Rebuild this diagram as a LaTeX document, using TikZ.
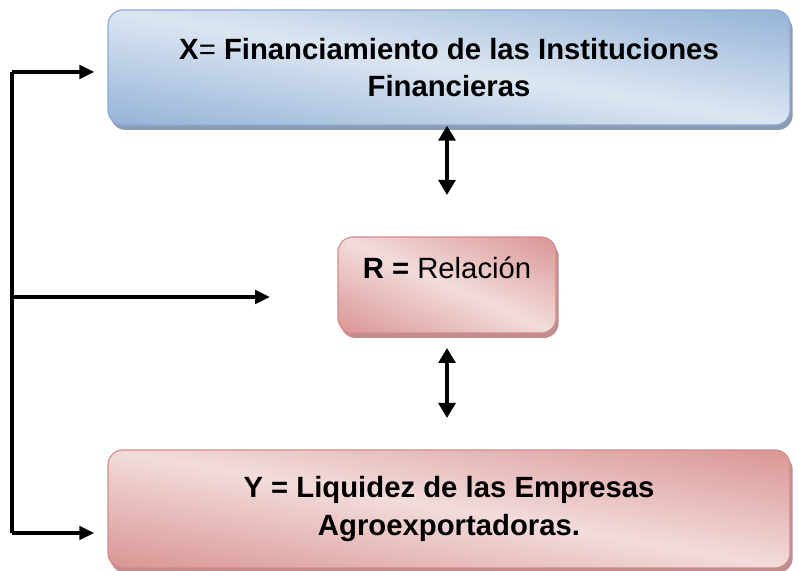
\documentclass[tikz,border=0pt]{standalone}
\usepackage{fontspec}
\setmainfont{Liberation Sans}
\usetikzlibrary{arrows.meta,shadows}
\definecolor{blueedge}{HTML}{8EAADB}
\definecolor{blueshadow}{HTML}{8E9CB0}
\definecolor{rededge}{HTML}{D68B8A}
\definecolor{redshadow}{HTML}{BF8F8F}
% light along the diagonal from upper left to lower right, dark in the other corners
\pgfdeclarefunctionalshading{diagblue}{\pgfpoint{-50bp}{-50bp}}{\pgfpoint{50bp}{50bp}}{}{
  add abs 50 div dup 1 gt {pop 1} if
  dup dup -0.279 mul 0.863 add 3 1 roll -0.200 mul 0.902 add exch -0.106 mul 0.949 add
}
\pgfdeclarefunctionalshading{diagred}{\pgfpoint{-50bp}{-50bp}}{\pgfpoint{50bp}{50bp}}{}{
  add abs 50 div dup 1 gt {pop 1} if
  dup dup -0.098 mul 0.949 add 3 1 roll -0.279 mul 0.863 add exch -0.279 mul 0.859 add
}
\begin{document}
\begin{tikzpicture}[
every node/.style={rounded corners=0.45cm, line width=1pt, align=center, font=\fontsize{25}{32}\selectfont},
varx/.style={draw=blueedge, shade, shading=diagblue,
  drop shadow={shadow xshift=0.08cm, shadow yshift=-0.15cm, fill=blueshadow, opacity=1}},
vary/.style={draw=rededge, shade, shading=diagred,
  drop shadow={shadow xshift=0.08cm, shadow yshift=-0.15cm, fill=redshadow, opacity=1}},
link/.style={line width=3.4pt},
arr/.style={line width=3.4pt, -{Triangle[length=0.45cm,width=0.4cm]}},
both/.style={line width=3.4pt, {Triangle[length=0.45cm,width=0.5cm]}-{Triangle[length=0.45cm,width=0.5cm]}}
]
\useasboundingbox (0,0) rectangle (23.94,17.13);
\node[varx, minimum width=20.46cm, minimum height=3.45cm] at (13.47,15.105) (fin)
  {\textbf{X}= \textbf{Financiamiento de las Instituciones}\\\textbf{Financieras}};
\node[vary, minimum width=6.54cm, minimum height=2.88cm, text height=0.7cm, text depth=1.06cm] at (13.41,8.58) (rel)
  {\textbf{R =} Relación};
\node[vary, minimum width=20.46cm, minimum height=3.54cm] at (13.47,1.86) (liq)
  {\textbf{Y = Liquidez de las Empresas}\\\textbf{Agroexportadoras.}};

\coordinate (tl) at (0.36,14.97);
\coordinate (ml) at (0.36,8.22);
\coordinate (bl) at (0.36,1.14);
\coordinate (me) at (8.1,8.22);
\coordinate (a1) at (13.41,11.28);
\coordinate (a2) at (13.41,6.69);
\coordinate (a3) at (13.41,4.59);

\draw[link] (tl) -- (bl);
\draw[arr] (tl) -- ([xshift=-0.39cm]fin.west |- tl);
\draw[arr] (ml) -- (me);
\draw[arr] (bl) -- ([xshift=-0.39cm]liq.west |- bl);
\draw[both] (rel.north |- fin.south) -- (a1);
\draw[both] (a2) -- (a3);
\end{tikzpicture}
\end{document}
